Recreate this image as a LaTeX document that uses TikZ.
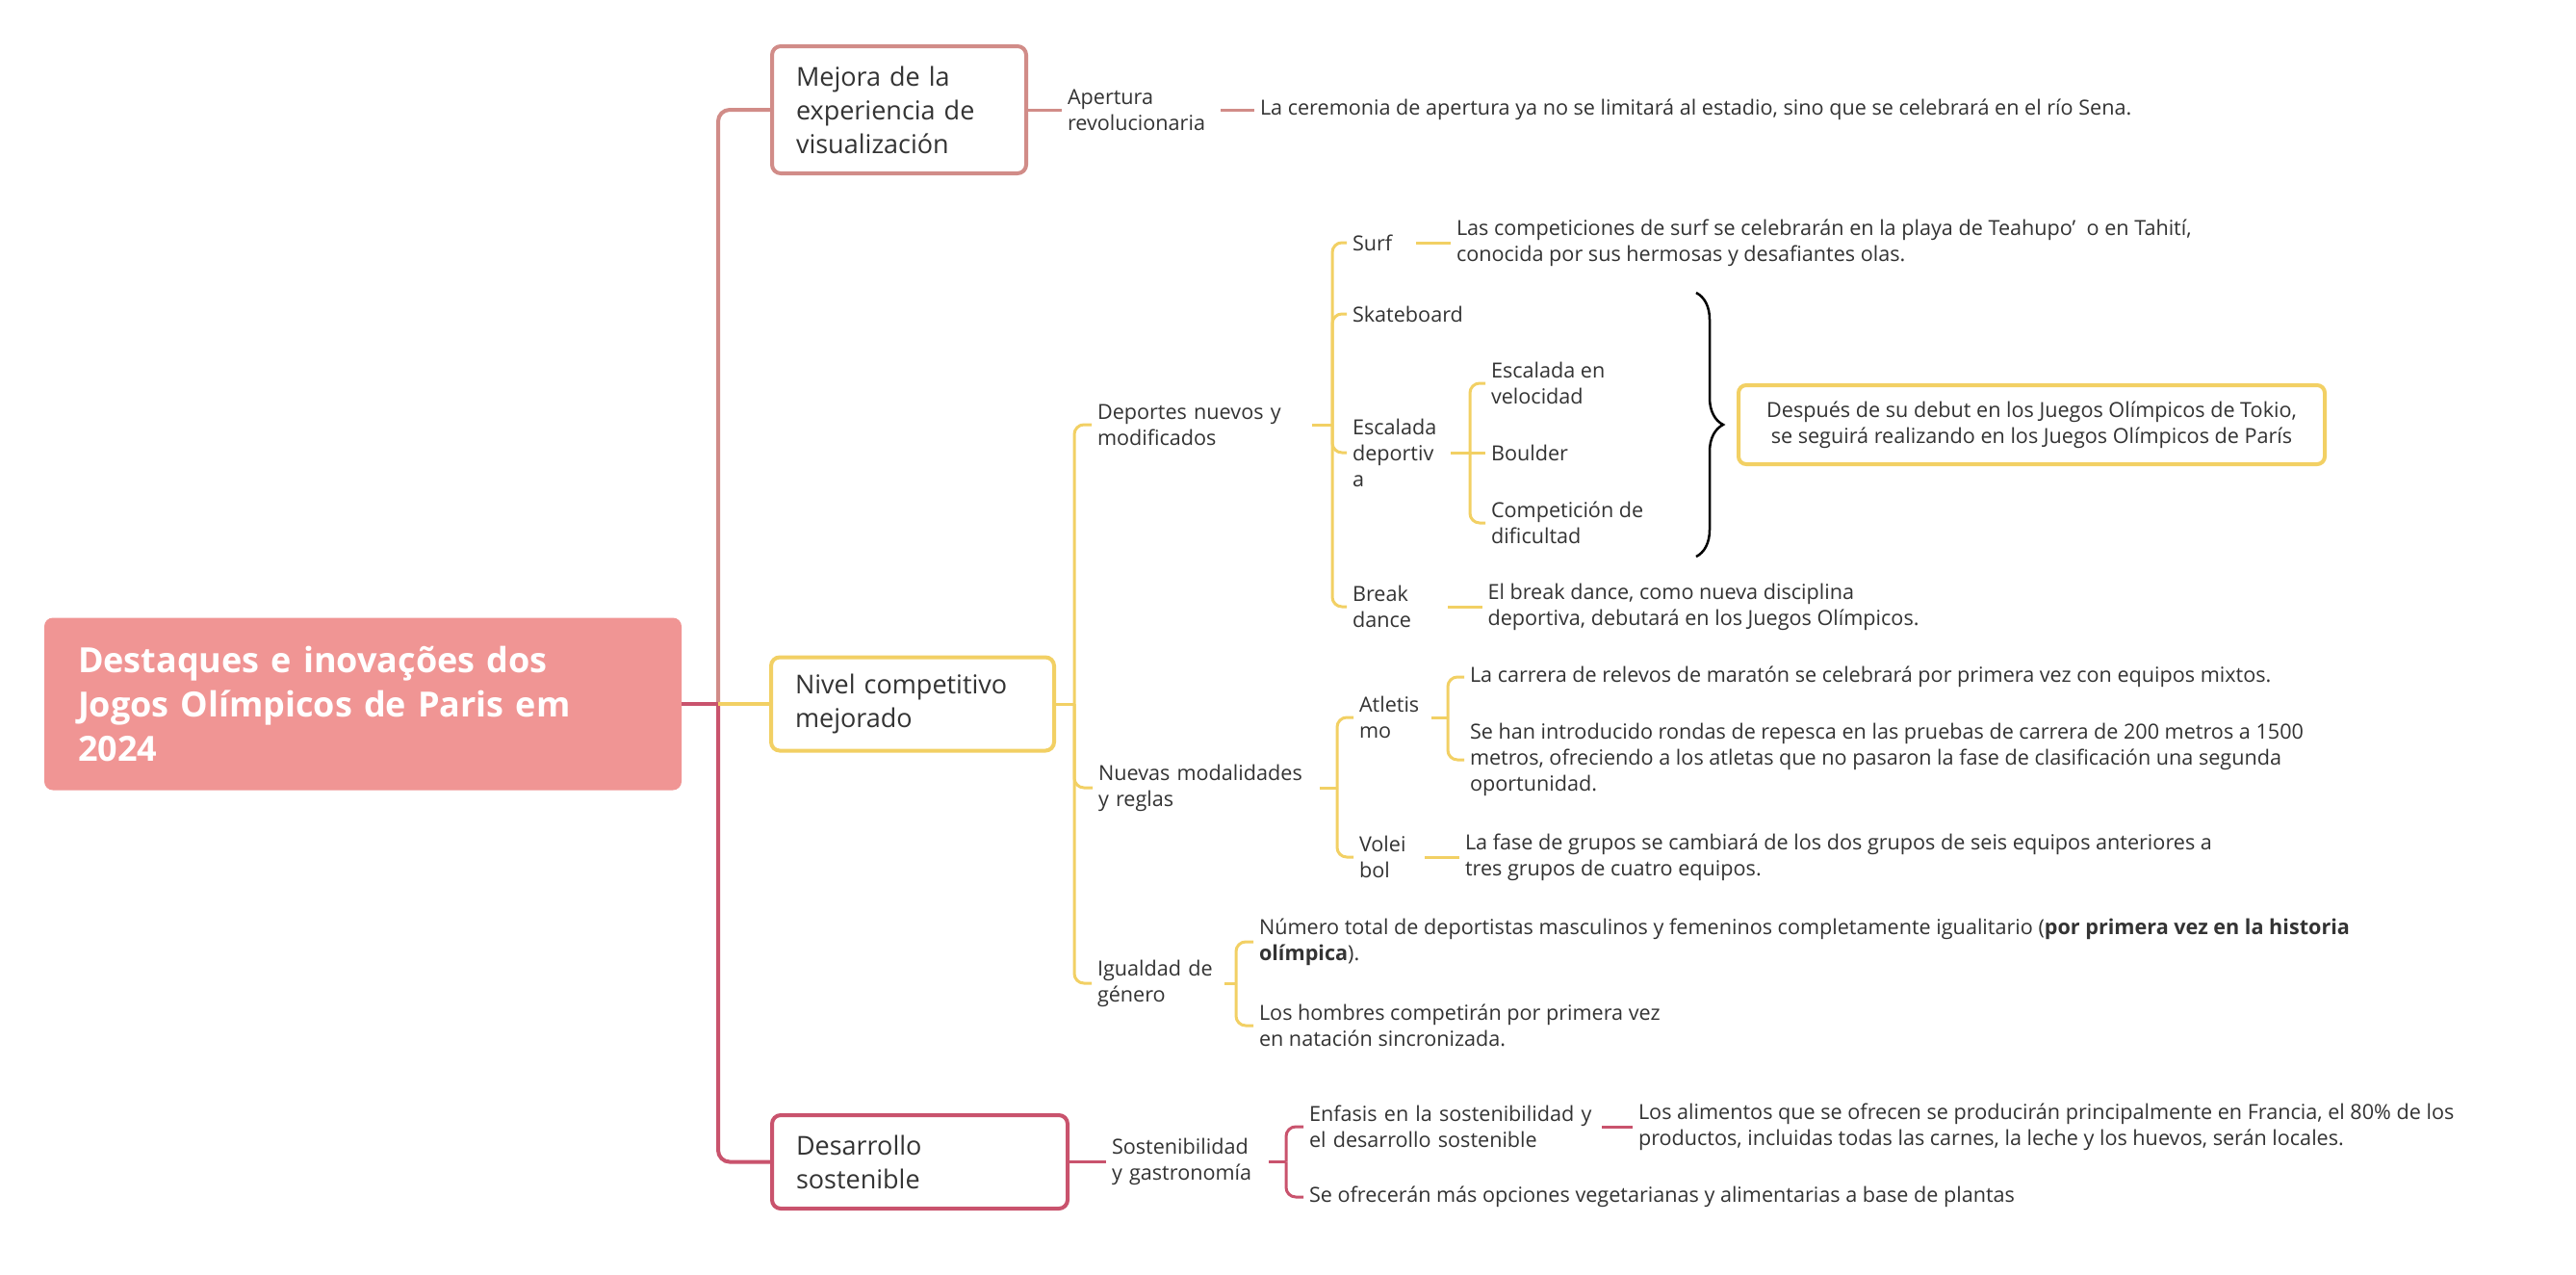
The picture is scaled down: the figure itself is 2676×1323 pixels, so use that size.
\documentclass[tikz,border=0pt]{standalone}
\usepackage{fontspec}
\setmainfont{Open Sans}
\usetikzlibrary{decorations.pathreplacing}
\definecolor{rootc}{HTML}{F09594}
\definecolor{rosec}{HTML}{D18C88}
\definecolor{yelc}{HTML}{F2D064}
\definecolor{crimc}{HTML}{C9536D}
\definecolor{txtc}{HTML}{333333}
\begin{document}
\begin{tikzpicture}[x=1pt,y=-1pt,
  every node/.style={outer sep=0},
  rootbox/.style={fill=rootc, rounded corners=9, text=white, font=\fontsize{36}{46}\selectfont\bfseries, anchor=north west, inner xsep=35, inner ysep=0, align=left},
  mainbox/.style={draw, line width=4, rounded corners=9, fill=white, font=\fontsize{27}{35}\selectfont, text=txtc, anchor=north west, inner xsep=25, inner ysep=0, align=left},
  lbl/.style={font=\fontsize{21.6}{27}\selectfont, text=txtc, anchor=west, inner xsep=6, inner ysep=2, align=left},
  sumbox/.style={draw=yelc, line width=4, rounded corners=8, fill=white, font=\fontsize{21.6}{27}\selectfont, text=txtc, align=center, inner sep=0},
  trunk/.style={line width=4},
  br/.style={line width=3},
  curve/.style={rounded corners=10}
]
\useasboundingbox[fill=white] (0,0) rectangle (2676,1323);

% root and main boxes
\node[rootbox, text width=592, minimum height=179] (root) at (46,641.5) {Destaques e inovações dos\\Jogos Olímpicos de Paris em\\2024};
\node[mainbox, draw=rosec, text width=214, minimum height=132] (mejora) at (802,48) {Mejora de la\\experiencia de\\visualización};
\node[mainbox, draw=yelc, text width=244, minimum height=97] (nivel) at (801,682.5) {Nivel competitivo\\mejorado};
\node[mainbox, draw=crimc, text width=257, minimum height=97] (desa) at (802,1158) {Desarrollo\\sostenible};

% junctions
\coordinate (T) at (746,731);
\coordinate (N) at (1116,731);
\coordinate (D) at (1384,441);
\coordinate (V) at (1389,818);
\coordinate (G) at (1284,1021);
\coordinate (A) at (1504,745);
\coordinate (E) at (1527,470);
\coordinate (S) at (1336,1206.5);

% level 2 and deeper
\node[lbl, text width=153] (apert) at (1103,114) {Apertura\\revolucionaria};
\node[lbl] (sena) at (1303,114) {La ceremonia de apertura ya no se limitará al estadio, sino que se celebrará en el río Sena.};

\node[lbl, text width=217] (dep) at (1134,441) {Deportes nuevos y\\modificados};
\node[lbl, text width=224] (nue) at (1135,818) {Nuevas modalidades\\y reglas};
\node[lbl, text width=126] (igu) at (1134,1021) {Igualdad de\\género};

\node[lbl, text width=60] (surf) at (1399,252) {Surf};
\node[lbl] (surft) at (1507,252) {Las competiciones de surf se celebrarán en la playa de Teahupo’~~o en Tahití,\\conocida por sus hermosas y desafiantes olas.};
\node[lbl] (skate) at (1399,326) {Skateboard};
\node[lbl, text width=96] (esc) at (1399,470) {Escalada\\deportiv\\a};
\node[lbl] (vel) at (1543,398) {Escalada en\\velocidad};
\node[lbl] (bould) at (1543,470) {Boulder};
\node[lbl] (comp) at (1543,543) {Competición de\\dificultad};
\node[lbl, text width=93] (brk) at (1399,630) {Break\\dance};
\node[lbl] (brkt) at (1539.5,630) {El break dance, como nueva disciplina\\deportiva, debutará en los Juegos Olímpicos.};
\node[sumbox, minimum width=609, minimum height=82] (sum) at (2110.5,441) {Después de su debut en los Juegos Olímpicos de Tokio,\\se seguirá realizando en los Juegos Olímpicos de París};
\coordinate (bt) at (1762,304);
\coordinate (bb) at (1762,578);

\node[lbl, text width=69] (atl) at (1406,745) {Atletis\\mo};
\node[lbl] (atl1) at (1521,703) {La carrera de relevos de maratón se celebrará por primera vez con equipos mixtos.};
\node[lbl] (atl2) at (1521,789) {Se han introducido rondas de repesca en las pruebas de carrera de 200 metros a 1500\\metros, ofreciendo a los atletas que no pasaron la fase de clasificación una segunda\\oportunidad.};
\node[lbl, text width=62] (vol) at (1406,890) {Volei\\bol};
\node[lbl] (volt) at (1516,890) {La fase de grupos se cambiará de los dos grupos de seis equipos anteriores a\\tres grupos de cuatro equipos.};

\node[lbl] (ig1) at (1302,978) {Número total de deportistas masculinos y femeninos completamente igualitario (\textbf{por primera vez en la historia}\\\textbf{olímpica}).};
\node[lbl] (ig2) at (1302,1065) {Los hombres competirán por primera vez\\en natación sincronizada.};

\node[lbl, text width=157] (sost) at (1149,1206.5) {Sostenibilidad\\y gastronomía};
\node[lbl, text width=298] (enf) at (1354,1170) {Enfasis en la sostenibilidad y\\el desarrollo sostenible};
\node[lbl] (enft) at (1696,1170) {Los alimentos que se ofrecen se producirán principalmente en Francia, el 80\% de los\\productos, incluidas todas las carnes, la leche y los huevos, serán locales.};
\node[lbl] (veg) at (1354,1243) {Se ofrecerán más opciones vegetarianas y alimentarias a base de plantas};

% trunk connectors
\draw[rosec, trunk, rounded corners=12] (T) |- (mejora.west);
\draw[crimc, trunk, rounded corners=12] (T) |- (desa.west);
\draw[crimc, trunk] (root.east) -- (T);
\draw[yelc, trunk] (T) -- (nivel.west);

% Mejora branch
\draw[rosec, br] (mejora.east) -- (apert.west);
\draw[rosec, br] (apert.east) -- (sena.west);

% Nivel branch
\draw[yelc, br] (nivel.east) -- (N);
\draw[yelc, br, curve] (N) |- (dep.west);
\draw[yelc, br, curve] (N) |- (nue.west);
\draw[yelc, br, curve] (N) |- (igu.west);

\draw[yelc, br] (dep.east) -- (D);
\draw[yelc, br, curve] (D) |- (surf.west);
\draw[yelc, br, curve] (D) |- (skate.west);
\draw[yelc, br, curve] (D) |- (esc.west);
\draw[yelc, br, curve] (D) |- (brk.west);
\draw[yelc, br] (surf.east) -- (surft.west);
\draw[yelc, br] (esc.east) -- (E);
\draw[yelc, br, curve] (E) |- (vel.west);
\draw[yelc, br] (E) -- (bould.west);
\draw[yelc, br, curve] (E) |- (comp.west);
\draw[yelc, br] (brk.east) -- (brkt.west);
\draw[black, line width=2.5, decorate, decoration={brace, amplitude=28}] (bt) -- (bb);

\draw[yelc, br] (nue.east) -- (V);
\draw[yelc, br, curve] (V) |- (atl.west);
\draw[yelc, br, curve] (V) |- (vol.west);
\draw[yelc, br] (atl.east) -- (A);
\draw[yelc, br, curve] (A) |- (atl1.west);
\draw[yelc, br, curve] (A) |- (atl2.west);
\draw[yelc, br] (vol.east) -- (volt.west);

\draw[yelc, br] (igu.east) -- (G);
\draw[yelc, br, curve] (G) |- (ig1.west);
\draw[yelc, br, curve] (G) |- (ig2.west);

% Desarrollo branch
\draw[crimc, br] (desa.east) -- (sost.west);
\draw[crimc, br] (sost.east) -- (S);
\draw[crimc, br, curve] (S) |- (enf.west);
\draw[crimc, br, curve] (S) |- (veg.west);
\draw[crimc, br] (enf.east) -- (enft.west);
\end{tikzpicture}
\end{document}
